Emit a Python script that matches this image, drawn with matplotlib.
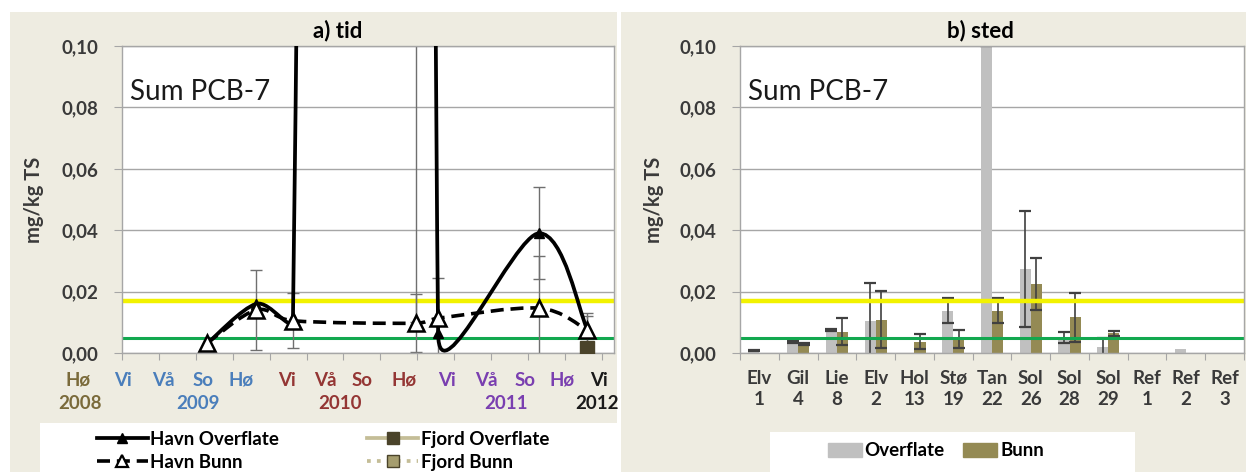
import numpy as np
import matplotlib
matplotlib.use("Agg")
import matplotlib.pyplot as plt
from matplotlib.path import Path
from matplotlib.patches import PathPatch, Rectangle
from matplotlib.lines import Line2D
from matplotlib.ticker import FuncFormatter

plt.rcParams['font.family'] = ['Lato', 'DejaVu Sans']

# ---- a) tid : x in months after autumn 2008 ----
tid_x = [6.9, 10.9, 13.9, 23.9, 25.7, 33.9, 37.8]
havn_overflate = [0.003, 0.016, 0.0115, 4.0, 0.0064, 0.039, 0.008]
havn_overflate_err = [0, 0, 0, 3.99, 0, 0.015, 0.005]
havn_bunn = [0.0032, 0.014, 0.0105, 0.0097, 0.0113, 0.0146, 0.0075]
havn_bunn_err = [0, 0.013, 0.009, 0.0095, 0.013, 0.017, 0.0045]
fjord_overflate_x = [37.8]
fjord_overflate = [0.0016]
fjord_bunn_x = []
fjord_bunn = []

seasons = ["Hø", "Vi", "Vå", "So", "Hø", "Vi", "Vå", "So", "Hø", "Vi", "Vå", "So", "Hø", "Vi"]
season_year = [2008, 2009, 2009, 2009, 2009, 2010, 2010, 2010, 2010, 2011, 2011, 2011, 2011, 2012]
season_pos = [-3.6, 0.1, 3.4, 6.6, 9.7, 13.4, 16.5, 19.5, 22.9, 26.4, 29.6, 32.8, 35.8, 38.8]
years = [2008, 2009, 2010, 2011, 2012]
year_pos = [-3.4, 6.2, 17.7, 31.2, 38.6]
year_colors = {2008: '#7a6a3a', 2009: '#4a7ebb', 2010: '#943634', 2011: '#7a3fb0', 2012: '#1a1a1a'}

# ---- b) sted ----
steder = ["Elv\n1", "Gil\n4", "Lie\n8", "Elv\n2", "Hol\n13", "Stø\n19", "Tan\n22",
          "Sol\n26", "Sol\n28", "Sol\n29", "Ref\n1", "Ref\n2", "Ref\n3"]
overflate = [0.0008, 0.0035, 0.0076, 0.0103, 0, 0.0138, 4.0, 0.0274, 0.005, 0.0021, 0, 0.0013, 0]
overflate_err = [0.0002, 0.0003, 0.0003, 0.0124, 0, 0.004, 3.9, 0.019, 0.0017, 0.0028, 0, 0, 0]
bunn = [0, 0.0029, 0.007, 0.0109, 0.0037, 0.0045, 0.0138, 0.0225, 0.0116, 0.0064, 0, 0, 0]
bunn_err = [0, 0.0003, 0.0043, 0.0093, 0.0025, 0.003, 0.004, 0.0085, 0.008, 0.0007, 0, 0, 0]

gul_grense = 0.017
gronn_grense = 0.005

W, H = 1246, 472
fig = plt.figure(figsize=(W / 100, H / 100), dpi=100)
fig.patch.set_facecolor('white')


def fx(px):
    return px / W


def fy(py):
    return 1 - py / H


beige = '#eeece1'
fig.patches.append(Rectangle((fx(10), 0), fx(617) - fx(10), fy(12), transform=fig.transFigure,
                             facecolor=beige, edgecolor='none', zorder=-10))
fig.patches.append(Rectangle((fx(621), 0), 1 - fx(621), fy(12), transform=fig.transFigure,
                             facecolor=beige, edgecolor='none', zorder=-10))
fig.patches.append(Rectangle((fx(40), 0), fx(617) - fx(40), fy(423), transform=fig.transFigure,
                             facecolor='white', edgecolor='none', zorder=-5))
fig.patches.append(Rectangle((fx(770), 0), fx(1135) - fx(770), fy(432), transform=fig.transFigure,
                             facecolor='white', edgecolor='none', zorder=-5))

axA = fig.add_axes([fx(122), fy(353), fx(614) - fx(122), fy(46) - fy(353)])
axB = fig.add_axes([fx(740), fy(353), fx(1244) - fx(740), fy(46) - fy(353)])

grid_c = '#a6a6a6'
txt_c = '#3a3a3a'
lab_size = 13.5
fmt = FuncFormatter(lambda v, p: f"{v:.2f}".replace('.', ','))

for ax in (axA, axB):
    ax.set_ylim(0, 0.10)
    ax.set_yticks(np.arange(0, 0.101, 0.02))
    ax.yaxis.set_major_formatter(fmt)
    ax.set_facecolor('white')
    for s in ax.spines.values():
        s.set_color(grid_c)
        s.set_linewidth(1)
    ax.grid(axis='y', color=grid_c, lw=1, zorder=0)
    ax.set_axisbelow(True)
    ax.tick_params(axis='y', direction='out', length=6, color=grid_c, pad=11,
                   labelsize=lab_size, labelcolor=txt_c)
    for lab in ax.get_yticklabels():
        lab.set_fontweight('bold')
    ax.axhline(gul_grense, color='#f2f200', lw=3.2, zorder=2)
    ax.axhline(gronn_grense, color='#12a84f', lw=2.2, zorder=2)
    ax.text(0.016, 0.85, "Sum PCB-7", transform=ax.transAxes, fontsize=20,
            color='#1a1a1a', va='center', ha='left')

# ---- panel a ----
axA.set_xlim(0, 40)
axA.set_xticks(np.arange(0, 40, 3))
axA.tick_params(axis='x', direction='out', length=5, color=grid_c, labelbottom=False)


def excel_smooth(ax, xs, ys):
    pts = ax.transData.transform(np.column_stack([xs, ys]))
    n = len(pts)
    verts = [pts[0]]
    codes = [Path.MOVETO]
    for i in range(n - 1):
        p0 = pts[max(i - 1, 0)]
        p1 = pts[i]
        p2 = pts[i + 1]
        p3 = pts[min(i + 2, n - 1)]
        d12 = np.hypot(*(p2 - p1))
        t1 = (p2 - p0) / 6
        t2 = (p3 - p1) / 6
        l1 = np.hypot(*t1)
        l2 = np.hypot(*t2)
        if l1 > d12 / 2:
            t1 = t1 * (d12 / 2) / l1
        if l2 > d12 / 2:
            t2 = t2 * (d12 / 2) / l2
        verts += [p1 + t1, p2 - t2, p2]
        codes += [Path.CURVE4] * 3
    return Path(ax.transData.inverted().transform(np.array(verts)), codes)


tx = np.array(tid_x)
ho = np.array(havn_overflate)
hoe = np.array(havn_overflate_err)
hb = np.array(havn_bunn)
hbe = np.array(havn_bunn_err)

m = hoe > 0
axA.errorbar(tx[m], ho[m], yerr=hoe[m], fmt='none', ecolor='#6f6f6f', elinewidth=1,
             capsize=4, capthick=1, zorder=2.5)
m = hbe > 0
axA.errorbar(tx[m], hb[m], yerr=hbe[m], fmt='none', ecolor='#6f6f6f', elinewidth=1,
             capsize=4, capthick=1, zorder=2.5)

axA.add_patch(PathPatch(excel_smooth(axA, tx, ho), fill=False, edgecolor='black', lw=2.7,
                        zorder=3, capstyle='round', joinstyle='round'))
axA.add_patch(PathPatch(excel_smooth(axA, tx, hb), fill=False, edgecolor='black', lw=2.6,
                        linestyle=(0, (3.6, 1.9)), zorder=3.1))
axA.plot(tx, ho, ls='none', marker='^', ms=7, color='black', zorder=4)
axA.plot(tx, hb, ls='none', marker='^', ms=11, mfc='white', mec='black', mew=1.8, zorder=5)
axA.plot(fjord_overflate_x, fjord_overflate, ls='none', marker='s', ms=10, color='#4a432a', zorder=5)
axA.plot(fjord_bunn_x, fjord_bunn, ls='none', marker='s', ms=10, mfc='#a59d6e', mec='#4a432a', zorder=5)

xtr = axA.get_xaxis_transform()
for lab, yr, pos in zip(seasons, season_year, season_pos):
    axA.text(pos, -0.088, lab, transform=xtr, ha='center', va='center', fontsize=lab_size,
             fontweight='bold', color=year_colors[yr], clip_on=False)
for yr, pos in zip(years, year_pos):
    axA.text(pos, -0.166, str(yr), transform=xtr, ha='center', va='center', fontsize=lab_size,
             fontweight='bold', color=year_colors[yr], clip_on=False)

fig.text(fx(338), fy(31), "a) tid", ha='center', va='center', fontsize=16, fontweight='bold')
fig.text(fx(34), fy(200), "mg/kg TS", rotation=90, ha='center', va='center', fontsize=14.5,
         fontweight='bold', color=txt_c)

handles_a = [
    Line2D([], [], color='black', lw=2.7, marker='^', ms=7),
    Line2D([], [], color='black', lw=2.6, ls=(0, (3.6, 1.9)), marker='^', ms=9, mfc='white', mec='black', mew=1.6),
    Line2D([], [], color='#c4bd97', lw=2.7, marker='s', ms=8, mfc='#4a432a', mec='#4a432a'),
    Line2D([], [], color='#c4bd97', lw=2.7, ls=':', marker='s', ms=9, mfc='#a59d6e', mec='#4a432a'),
]
fig.legend(handles_a, ["Havn Overflate", "Havn Bunn", "Fjord Overflate", "Fjord Bunn"],
           loc='upper left', bbox_to_anchor=(fx(97), fy(431)), ncol=2, frameon=False,
           prop={'size': lab_size, 'weight': 'bold'}, handlelength=2.7, handletextpad=0.15,
           columnspacing=4.7, labelspacing=0.3, borderpad=0, borderaxespad=0)

# ---- panel b ----
pos = np.arange(len(steder))
bw = 0.285
axB.set_xlim(-0.5, len(steder) - 0.5)
axB.bar(pos - bw / 2, overflate, bw, color='#c0c0c0', zorder=1.5, label="Overflate")
axB.bar(pos + bw / 2, bunn, bw, color='#948a54', zorder=1.5, label="Bunn")
of = np.array(overflate)
ofe = np.array(overflate_err)
bn = np.array(bunn)
bne = np.array(bunn_err)
m = ofe > 0
axB.errorbar(pos[m] - bw / 2, of[m], yerr=ofe[m], fmt='none', ecolor='#404040', elinewidth=1.2,
             capsize=4, capthick=1.6, zorder=1.8)
m = bne > 0
axB.errorbar(pos[m] + bw / 2, bn[m], yerr=bne[m], fmt='none', ecolor='#404040', elinewidth=1.2,
             capsize=4, capthick=1.6, zorder=1.8)

axB.set_xticks(np.arange(-0.5, len(steder), 1))
axB.set_xticklabels([])
axB.set_xticks(pos, minor=True)
axB.set_xticklabels(steder, minor=True, fontsize=lab_size, fontweight='bold', color=txt_c, linespacing=1.3)
axB.tick_params(axis='x', which='major', direction='out', length=5, color=grid_c)
axB.tick_params(axis='x', which='minor', length=0, pad=12)

fig.text(fx(980), fy(31), "b) sted", ha='center', va='center', fontsize=16, fontweight='bold')
fig.text(fx(654), fy(200), "mg/kg TS", rotation=90, ha='center', va='center', fontsize=14.5,
         fontweight='bold', color=txt_c)

handles_b = [Rectangle((0, 0), 1, 1, color='#c0c0c0'), Rectangle((0, 0), 1, 1, color='#948a54')]
fig.legend(handles_b, ["Overflate", "Bunn"], loc='center left', bbox_to_anchor=(fx(828), fy(451)),
           ncol=2, frameon=False, prop={'size': lab_size, 'weight': 'bold'}, handlelength=1.8,
           handleheight=0.7, handletextpad=0.15, columnspacing=1.0, borderpad=0, borderaxespad=0)

fig.savefig("out.png", dpi=100)
